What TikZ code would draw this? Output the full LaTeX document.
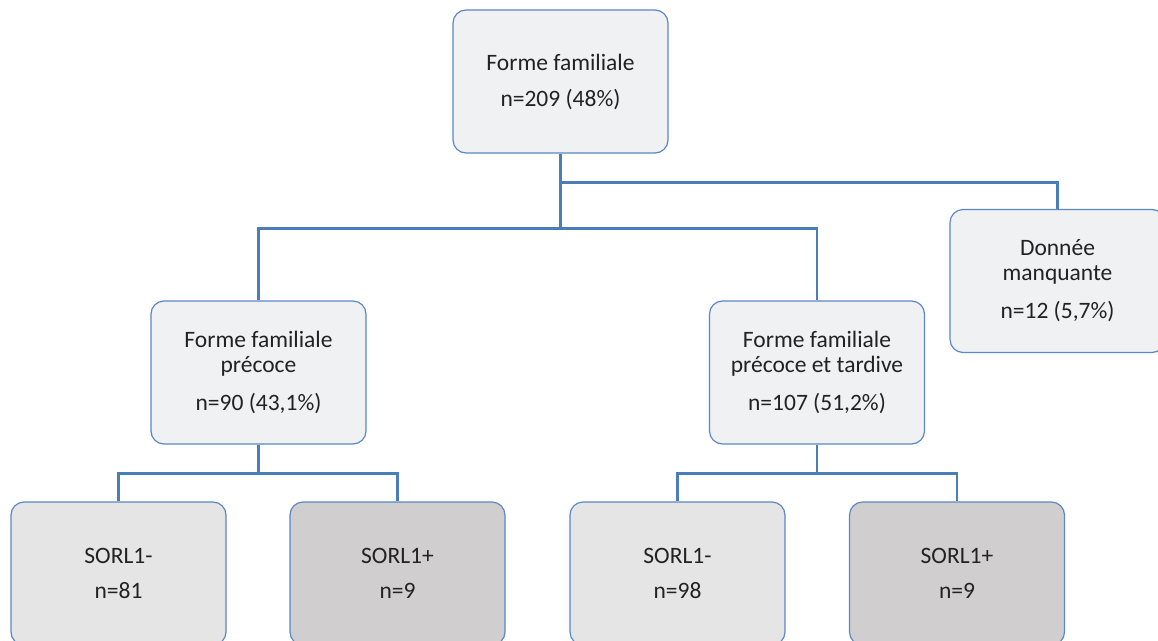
\documentclass[tikz,border=0pt]{standalone}
\usepackage{fontspec}
\setmainfont{Carlito}
\usepackage{tikz}
\definecolor{LinkBlue}{HTML}{4A7EBB}
\definecolor{EdgeBlue}{HTML}{5B87C6}
\definecolor{PaleFill}{HTML}{F0F1F3}
\definecolor{NegFill}{HTML}{E5E5E5}
\definecolor{PosFill}{HTML}{D0CECE}
\definecolor{InkGray}{HTML}{222222}
\tikzset{
  famnode/.style={draw=EdgeBlue, line width=1.2pt, fill=PaleFill, rounded corners=13pt,
    minimum width=215pt, minimum height=143pt, inner sep=0pt, align=center,
    text=InkGray, font=\fontsize{23.5}{25}\selectfont},
  negnode/.style={famnode, fill=NegFill},
  posnode/.style={famnode, fill=PosFill},
  link/.style={draw=LinkBlue, line width=2.6pt}
}

\begin{document}
\begin{tikzpicture}[x=1pt,y=-1pt]
\useasboundingbox (0,0) rectangle (1158,640);
\clip (0,0) rectangle (1158,640);
%TOP
\node[famnode] (top) at (560.5,81.5) {Forme familiale\\[11pt]n=209 (48\%)};
%MIDDLE
\node[famnode] (early) at (258.5,372.5) {Forme familiale\\précoce\\[13pt]n=90 (43,1\%)};
\node[famnode] (mixed) at (817,372.5) {Forme familiale\\précoce et tardive\\[13pt]n=107 (51,2\%)};
\node[famnode] (missing) at (1057.5,281) {Donnée\\manquante\\[13pt]n=12 (5,7\%)};
%BOT
\node[negnode] (earlyneg) at (118.5,573.5) {SORL1-\\[10pt]n=81};
\node[posnode] (earlypos) at (397.5,573.5) {SORL1+\\[10pt]n=9};
\node[negnode] (mixedneg) at (677.5,573.5) {SORL1-\\[10pt]n=98};
\node[posnode] (mixedpos) at (957,573.5) {SORL1+\\[10pt]n=9};
% Links
\draw[link] (top.south) -- ++(0,29) -| (missing.north);
\draw[link] (top.south) -- ++(0,75) -| (early.north);
\draw[link] (top.south) -- ++(0,75) -| (mixed.north);
\draw[link] (early.south) -- ++(0,29) -| (earlyneg.north);
\draw[link] (early.south) -- ++(0,29) -| (earlypos.north);
\draw[link] (mixed.south) -- ++(0,29) -| (mixedneg.north);
\draw[link] (mixed.south) -- ++(0,29) -| (mixedpos.north);
\end{tikzpicture}
\end{document}
